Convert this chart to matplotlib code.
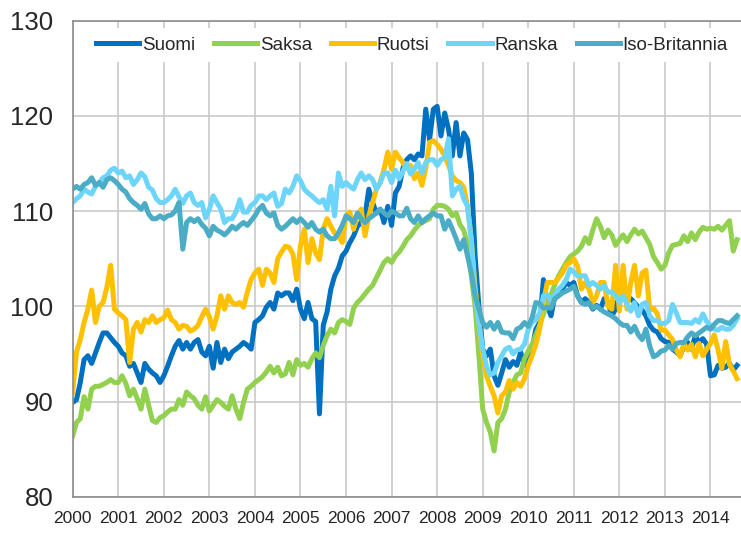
import numpy as np
import matplotlib
matplotlib.use('Agg')
import matplotlib.pyplot as plt

plt.rcParams['font.family'] = ['Liberation Sans', 'DejaVu Sans']

# kuukausittaiset indeksit 1/2000 - 8/2014
suomi = [
    89.9, 90.2, 92.0, 94.4, 94.8, 94.0, 95.1, 96.2, 97.2, 97.2, 96.7, 96.2,
    95.8, 95.1, 94.8, 93.7, 94.0, 93.0, 92.0, 94.0, 93.4, 93.0, 92.7, 92.0,
    92.7, 93.7, 94.8, 95.8, 96.4, 95.5, 96.2, 95.5, 96.2, 96.5, 95.2, 94.8,
    95.8, 93.5, 96.2, 94.1, 95.5, 94.5, 95.2, 95.5, 95.8, 96.2, 95.9, 95.5,
    98.3, 98.6, 99.0, 99.9, 100.4, 99.7, 101.4, 101.1, 101.4, 101.4, 100.6, 101.8,
    99.7, 98.7, 100.4, 98.7, 98.4, 88.7, 98.0, 99.4, 101.8, 103.2, 104.0, 105.3,
    105.8, 106.7, 107.4, 108.4, 108.8, 109.5, 112.3, 110.9, 109.8, 110.2, 108.8, 110.5,
    108.5, 111.9, 112.6, 114.5, 115.4, 115.8, 115.4, 116.0, 115.8, 120.7, 117.5, 120.7,
    121.0, 117.9, 120.3, 118.6, 115.8, 119.3, 115.8, 118.2, 117.5, 114.0, 105.3, 100.0,
    95.5, 94.8, 95.5, 92.7, 91.7, 93.0, 94.4, 93.6, 94.2, 93.8, 95.2, 93.8,
    94.5, 95.5, 97.6, 98.3, 102.8, 100.0, 99.0, 101.1, 101.5, 101.8, 102.5, 102.2,
    102.5, 101.1, 100.4, 100.8, 100.4, 99.7, 100.1, 99.7, 100.8, 100.4, 99.0, 99.7,
    101.4, 101.1, 100.6, 100.8, 100.4, 99.9, 99.6, 99.0, 98.0, 97.5, 97.3, 96.6,
    96.3, 96.2, 95.5, 95.2, 94.8, 95.8, 96.2, 95.5, 96.9, 96.2, 96.6, 96.0,
    92.7, 92.8, 93.8, 93.5, 93.6, 94.0, 93.3, 93.8]

saksa = [
    86.4, 87.8, 88.2, 90.5, 89.2, 91.3, 91.6, 91.6, 91.8, 92.0, 92.3, 92.0,
    92.0, 92.7, 91.9, 90.6, 91.3, 90.3, 89.2, 91.3, 89.6, 88.0, 87.8, 88.3,
    88.5, 88.9, 89.2, 89.2, 90.2, 89.6, 91.0, 90.6, 90.3, 89.6, 89.2, 90.5,
    89.0, 89.6, 90.2, 89.9, 89.5, 89.2, 90.6, 89.2, 88.2, 89.9, 91.3, 91.6,
    92.0, 92.3, 92.6, 93.1, 93.7, 93.0, 93.6, 92.7, 92.9, 94.1, 92.8, 94.4,
    93.8, 94.0, 93.6, 94.5, 95.1, 94.6, 95.9, 96.9, 97.6, 97.2, 98.3, 98.6,
    98.4, 98.1, 99.8, 100.4, 100.8, 101.3, 101.8, 102.2, 103.0, 103.8, 104.6, 105.0,
    104.6, 105.3, 105.7, 106.3, 107.0, 107.4, 108.0, 108.5, 108.8, 109.0, 109.2, 110.2,
    110.6, 110.6, 110.5, 110.2, 109.5, 109.8, 108.6, 108.0, 106.5, 103.2, 100.0, 94.8,
    89.2, 87.8, 86.8, 84.8, 87.8, 88.2, 89.2, 91.0, 92.0, 92.8, 93.0, 94.5,
    95.3, 96.0, 97.0, 98.0, 99.2, 100.2, 101.2, 102.3, 103.2, 103.9, 104.6, 105.2,
    105.5, 105.8, 106.3, 107.2, 106.6, 108.0, 109.2, 108.4, 107.2, 108.0, 107.5, 106.4,
    107.0, 107.5, 106.8, 107.5, 108.1, 107.6, 107.9, 107.2, 106.5, 105.2, 104.6, 103.9,
    104.3, 105.6, 106.4, 106.5, 106.6, 107.4, 106.8, 107.7, 107.0, 107.8, 108.3, 108.1,
    108.2, 108.1, 108.4, 108.0, 108.5, 109.0, 105.8, 107.0]

ruotsi = [
    91.0, 95.2, 96.5, 98.3, 99.7, 101.7, 98.3, 100.0, 100.4, 102.0, 104.3, 99.7,
    99.3, 99.0, 98.6, 94.1, 97.6, 98.3, 97.3, 98.6, 98.3, 99.0, 98.3, 98.6,
    98.8, 99.6, 98.6, 98.3, 97.6, 98.0, 97.9, 97.4, 97.6, 98.0, 98.9, 99.7,
    98.9, 97.6, 99.0, 101.1, 99.7, 101.1, 100.4, 100.2, 100.4, 99.9, 101.5, 102.8,
    103.5, 103.9, 102.2, 103.9, 103.5, 102.5, 105.0, 105.7, 106.3, 106.2, 105.5, 102.8,
    106.4, 108.1, 104.6, 107.1, 105.6, 104.9, 108.1, 109.2, 108.4, 107.7, 107.4, 106.7,
    109.5, 109.9, 108.1, 109.5, 110.2, 107.4, 109.5, 110.9, 112.3, 113.0, 114.4, 116.2,
    114.4, 116.2, 115.6, 115.1, 114.5, 114.8, 113.4, 114.0, 112.7, 114.5, 117.2, 117.4,
    117.0, 116.5, 115.8, 114.8, 113.7, 113.2, 113.0, 112.5, 110.5, 107.0, 102.0, 98.3,
    94.8, 92.7, 91.6, 90.6, 88.8, 90.6, 91.0, 92.2, 91.3, 92.0, 91.6, 92.4,
    93.8, 94.8, 96.0, 97.6, 100.4, 102.5, 102.5, 102.5, 103.0, 103.5, 104.3, 104.6,
    105.0, 104.2, 101.8, 102.5, 101.8, 100.4, 101.1, 102.5, 102.5, 100.0, 99.7, 104.3,
    99.5, 104.3, 99.7, 102.5, 104.3, 101.1, 103.5, 103.8, 99.6, 99.8, 99.2, 97.5,
    97.5, 97.0, 96.5, 95.4, 94.7, 96.1, 95.4, 96.0, 94.7, 96.1, 94.8, 95.5,
    96.1, 97.0, 95.4, 93.5, 96.3, 93.9, 93.2, 92.4]

ranska = [
    110.9, 111.3, 111.6, 112.3, 112.0, 111.8, 112.6, 113.0, 113.5, 113.7, 114.3, 114.5,
    114.0, 114.2, 113.5, 113.7, 112.8, 113.3, 114.0, 113.6, 112.5, 112.2, 111.3, 110.9,
    110.9, 111.2, 111.6, 112.3, 111.5, 110.8, 111.6, 111.9, 110.9, 110.6, 110.9, 109.3,
    110.2, 111.6, 110.9, 110.2, 108.8, 109.2, 109.2, 109.9, 111.2, 109.9, 109.9, 110.6,
    110.9, 111.6, 111.6, 111.2, 111.6, 111.9, 110.5, 110.8, 112.3, 111.9, 112.6, 113.7,
    113.2, 112.3, 111.9, 111.6, 111.2, 110.9, 111.2, 110.2, 112.6, 109.5, 114.0, 112.6,
    113.0, 112.6, 112.3, 113.3, 114.0, 113.3, 113.7, 113.3, 112.3, 113.0, 114.0, 114.0,
    113.0, 114.3, 113.4, 114.2, 115.0, 113.9, 114.4, 115.1, 114.0, 115.1, 115.4, 115.4,
    114.8, 115.4, 115.6, 117.6, 111.6, 112.3, 112.6, 111.3, 110.5, 107.0, 101.1, 98.3,
    95.5, 93.7, 92.8, 93.0, 94.1, 94.8, 95.5, 95.7, 95.0, 95.4, 95.5, 96.0,
    97.6, 98.3, 98.6, 99.3, 101.1, 101.2, 100.6, 101.2, 101.8, 102.2, 102.8, 103.9,
    103.6, 103.2, 103.2, 103.2, 102.2, 102.5, 102.2, 101.8, 102.2, 101.5, 101.5, 101.1,
    100.4, 101.1, 100.2, 99.5, 100.4, 99.0, 100.2, 100.4, 99.0, 98.5, 98.5, 98.2,
    98.2, 98.5, 100.2, 99.3, 98.3, 98.3, 98.3, 98.2, 98.6, 98.3, 99.2, 98.4,
    98.0, 97.6, 97.5, 97.8, 97.6, 97.6, 98.0, 98.7]

iso_britannia = [
    112.3, 112.6, 112.3, 112.8, 113.0, 113.5, 112.7, 113.0, 112.5, 113.3, 113.5, 113.2,
    112.8, 112.3, 112.0, 111.3, 110.9, 110.6, 110.2, 110.8, 109.7, 109.2, 109.2, 109.5,
    109.2, 109.5, 109.6, 110.0, 110.9, 106.0, 108.8, 109.2, 108.9, 109.2, 108.6, 108.2,
    107.4, 108.4, 108.0, 107.8, 107.5, 107.9, 108.4, 108.1, 108.5, 108.8, 108.5, 109.0,
    109.5, 110.2, 110.6, 109.8, 109.5, 109.8, 108.5, 108.1, 108.4, 108.8, 109.2, 108.8,
    109.2, 108.8, 108.3, 108.8, 108.1, 107.8, 108.1, 107.4, 107.1, 107.1, 107.7, 108.5,
    109.5, 109.2, 108.8, 109.8, 109.2, 108.8, 109.2, 109.5, 109.8, 110.2, 109.8, 109.5,
    110.0, 109.8, 109.5, 109.5, 110.3, 109.2, 108.8, 109.5, 108.8, 109.2, 109.5, 109.8,
    109.5, 109.5, 108.1, 109.0, 108.1, 107.1, 106.0, 107.0, 105.3, 103.5, 101.1, 99.7,
    98.3, 97.8, 98.3, 97.6, 98.3, 97.3, 97.2, 97.2, 96.6, 97.6, 97.8, 98.3,
    97.9, 98.8, 100.4, 100.3, 99.8, 99.9, 99.8, 100.8, 101.1, 101.4, 101.6, 101.8,
    102.1, 101.1, 100.4, 100.2, 100.4, 99.8, 100.0, 99.7, 99.4, 99.2, 99.0, 98.7,
    98.3, 98.0, 98.0, 97.3, 97.9, 97.0, 96.5, 97.6, 95.8, 94.7, 94.9, 95.3,
    95.4, 95.9, 95.5, 96.1, 96.2, 96.2, 96.8, 97.2, 96.9, 97.2, 97.5, 97.8,
    97.6, 98.1, 98.5, 98.5, 98.3, 98.2, 98.6, 99.0]

years = list(range(2000, 2015))
y_ticks = [80, 90, 100, 110, 120, 130]

series = [
    ('Suomi', suomi, '#0070C0'),
    ('Saksa', saksa, '#92D050'),
    ('Ruotsi', ruotsi, '#FFC000'),
    ('Ranska', ranska, '#6DD5FA'),
    ('Iso-Britannia', iso_britannia, '#4BACC6'),
]

fig = plt.figure(figsize=(7.41, 5.34), dpi=100)
ax = fig.add_axes([72.7 / 741, 37.3 / 534, 668.3 / 741, 476 / 534])

for name, vals, col in series:
    x = 2000 + np.arange(len(vals)) / 12
    ax.plot(x, vals, color=col, lw=3.6, label=name, solid_joinstyle='round')

ax.set_xlim(2000, 2014.67)
ax.set_ylim(80, 130)
ax.set_xticks(years)
ax.set_xticklabels([str(y) for y in years])
ax.set_yticks(y_ticks)

ax.grid(True, color='#c9c9c9', lw=1.2)
ax.set_axisbelow(True)
for s in ['left', 'bottom', 'top']:
    ax.spines[s].set_color('#8c8c8c')
    ax.spines[s].set_linewidth(1.2)
ax.spines['right'].set_visible(False)

ax.tick_params(axis='y', length=0, pad=14, labelsize=18.5, labelcolor='#262626')
ax.tick_params(axis='x', length=0, pad=10, labelsize=12.5, labelcolor='#262626')

leg = ax.legend(loc='center', bbox_to_anchor=(0.508, 0.949), ncol=5,
                fontsize=13.5, frameon=True, facecolor='white', edgecolor='none',
                framealpha=1, handlelength=2.3, handletextpad=0.15,
                columnspacing=1.0, borderpad=0.45, borderaxespad=0)
for t in leg.get_texts():
    t.set_color('#262626')

fig.savefig('out.png', dpi=100)
